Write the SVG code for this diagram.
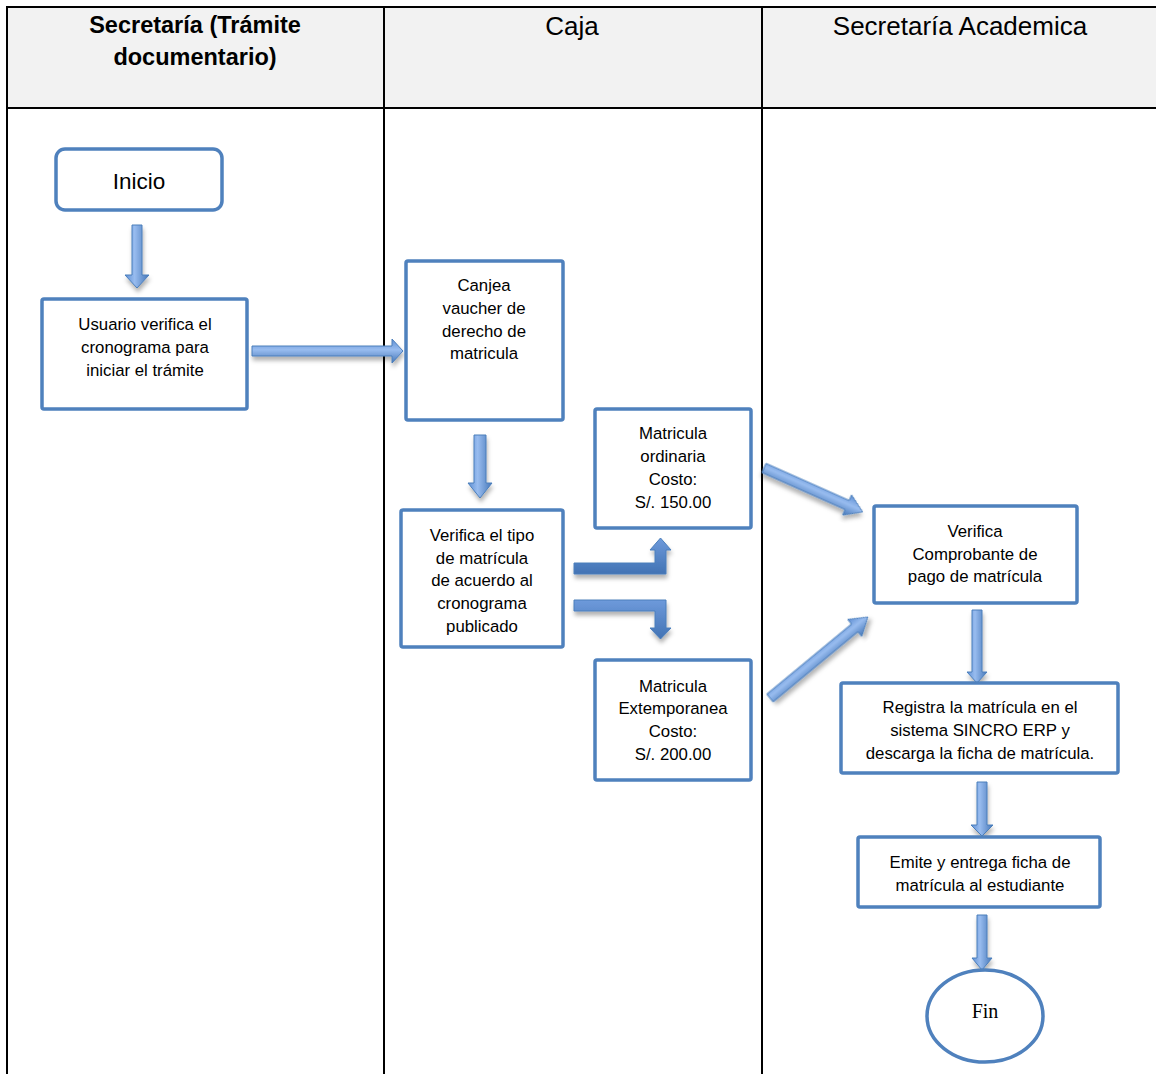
<svg xmlns="http://www.w3.org/2000/svg" width="1156" height="1074" viewBox="0 0 1156 1074">
<style>
.grid{stroke:#000;stroke-width:2;fill:none}
.box{fill:#fff;stroke:#4f81bd;stroke-width:3.5}
.t{font-family:"Liberation Sans",Arial,sans-serif;font-size:16.8px;fill:#000;text-anchor:middle}
.h{font-family:"Liberation Sans",Arial,sans-serif;font-size:26px;fill:#000;text-anchor:middle}
.hb{font-family:"Liberation Sans",Arial,sans-serif;font-size:23.5px;font-weight:bold;fill:#000;text-anchor:middle}
.arr{fill:url(#ga);stroke:#4a7ebb;stroke-width:1;filter:url(#sh)}
.arrv{fill:url(#gv);stroke:#4a7ebb;stroke-width:1;filter:url(#sh)}
.arrb{fill:url(#gb);stroke:#4a7ebb;stroke-width:1;filter:url(#sh)}
</style>
<defs>
<linearGradient id="ga" x1="0" y1="0" x2="0" y2="1">
<stop offset="0" stop-color="#5f8fd3"/>
<stop offset="0.45" stop-color="#98bcef"/>
<stop offset="1" stop-color="#4677b8"/>
</linearGradient>
<linearGradient id="gv" x1="0" y1="0" x2="1" y2="0">
<stop offset="0" stop-color="#5f8fd3"/>
<stop offset="0.4" stop-color="#98bcef"/>
<stop offset="1" stop-color="#4677b8"/>
</linearGradient>
<linearGradient id="gb" x1="0" y1="0" x2="0" y2="1">
<stop offset="0" stop-color="#6e9adb"/>
<stop offset="1" stop-color="#4273b4"/>
</linearGradient>
<filter id="sh" x="-30%" y="-30%" width="160%" height="160%">
<feDropShadow dx="1" dy="4" stdDeviation="2" flood-color="#000" flood-opacity="0.3"/>
</filter>
</defs>
<rect width="1156" height="1074" fill="#fff"/>
<g id="table">
<rect x="7" y="7" width="1149" height="101" fill="#f2f2f2"/>
<line class="grid" x1="6" y1="7" x2="1156" y2="7"/>
<line class="grid" x1="6" y1="108" x2="1156" y2="108"/>
<line class="grid" x1="7" y1="6" x2="7" y2="1074"/>
<line class="grid" x1="384" y1="7" x2="384" y2="1074"/>
<line class="grid" x1="762" y1="7" x2="762" y2="1074"/>
<text class="hb" x="195" y="33">Secretaría (Trámite</text>
<text class="hb" x="195" y="65">documentario)</text>
<text class="h" x="572" y="35">Caja</text>
<text class="h" x="960" y="35">Secretaría Academica</text>
</g>
<g id="connectors">
<path class="arrv" d="M132,225 H142 V275 H149 L137,288 L125,275 H132 Z"/>
<path class="arr" d="M252,346 H392 V339 L403,351 L392,363 V356 H252 Z"/>
<path class="arrv" d="M474,435 H486 V483 H492 L480,498 L468,483 H474 Z"/>
<path class="arrb" d="M574,563 H655 V550 H650 L660.5,538 L671,550 H666 V574 H574 Z"/>
<path class="arrb" d="M574,600 H666 V628 H671 L660.5,639 L650,628 H655 V611 H574 Z"/>
<path class="arr" transform="translate(764,468) rotate(24)" d="M0,-5 H91 V-11 L108,0 L91,11 V5 H0 Z"/>
<path class="arr" transform="translate(770,698) rotate(-39.6)" d="M0,-5 H110 V-11 L127,0 L110,11 V5 H0 Z"/>
<path class="arrv" d="M972,610 H982 V672 H987 L977,683 L967,672 H972 Z"/>
<path class="arrv" d="M977,782 H987 V825 H993 L982,836 L971,825 H977 Z"/>
<path class="arrv" d="M977,915 H987 V958 H992 L982,970 L972,958 H977 Z"/>
</g>
<g id="inicio">
<rect class="box" x="56" y="149" width="166" height="61" rx="9"/>
<text class="t" style="font-size:22.5px" x="139" y="189">Inicio</text>
</g>
<g id="usuario">
<rect class="box" x="42" y="299" width="205" height="110" rx="2"/>
<text class="t" x="145" y="330">Usuario verifica el</text>
<text class="t" x="145" y="353">cronograma para</text>
<text class="t" x="145" y="376">iniciar el trámite</text>
</g>
<g id="canjea">
<rect class="box" x="406" y="261" width="157" height="159" rx="2"/>
<text class="t" x="484" y="291">Canjea</text>
<text class="t" x="484" y="314">vaucher de</text>
<text class="t" x="484" y="337">derecho de</text>
<text class="t" x="484" y="359">matricula</text>
</g>
<g id="verifica-tipo">
<rect class="box" x="401" y="510" width="162" height="137" rx="2"/>
<text class="t" x="482" y="541">Verifica el tipo</text>
<text class="t" x="482" y="564">de matrícula</text>
<text class="t" x="482" y="586">de acuerdo al</text>
<text class="t" x="482" y="609">cronograma</text>
<text class="t" x="482" y="632">publicado</text>
</g>
<g id="ordinaria">
<rect class="box" x="595" y="409" width="156" height="119" rx="2"/>
<text class="t" x="673" y="439">Matricula</text>
<text class="t" x="673" y="462">ordinaria</text>
<text class="t" x="673" y="485">Costo:</text>
<text class="t" x="673" y="508">S/. 150.00</text>
</g>
<g id="extemporanea">
<rect class="box" x="595" y="660" width="156" height="120" rx="2"/>
<text class="t" x="673" y="692">Matricula</text>
<text class="t" x="673" y="714">Extemporanea</text>
<text class="t" x="673" y="737">Costo:</text>
<text class="t" x="673" y="760">S/. 200.00</text>
</g>
<g id="verifica-comprobante">
<rect class="box" x="874" y="506" width="203" height="97" rx="2"/>
<text class="t" x="975" y="537">Verifica</text>
<text class="t" x="975" y="560">Comprobante de</text>
<text class="t" x="975" y="582">pago de matrícula</text>
</g>
<g id="registra">
<rect class="box" x="841" y="683" width="277" height="90" rx="2"/>
<text class="t" x="980" y="713">Registra la matrícula en el</text>
<text class="t" x="980" y="736">sistema SINCRO ERP y</text>
<text class="t" x="980" y="759">descarga la ficha de matrícula.</text>
</g>
<g id="emite">
<rect class="box" x="858" y="837" width="242" height="70" rx="2"/>
<text class="t" x="980" y="868">Emite y entrega ficha de</text>
<text class="t" x="980" y="891">matrícula al estudiante</text>
</g>
<g id="fin">
<ellipse class="box" cx="985" cy="1016" rx="58" ry="46"/>
<text x="985" y="1018" style="font-family:'Liberation Serif','Times New Roman',serif;font-size:20px;text-anchor:middle;fill:#000">Fin</text>
</g>
</svg>
